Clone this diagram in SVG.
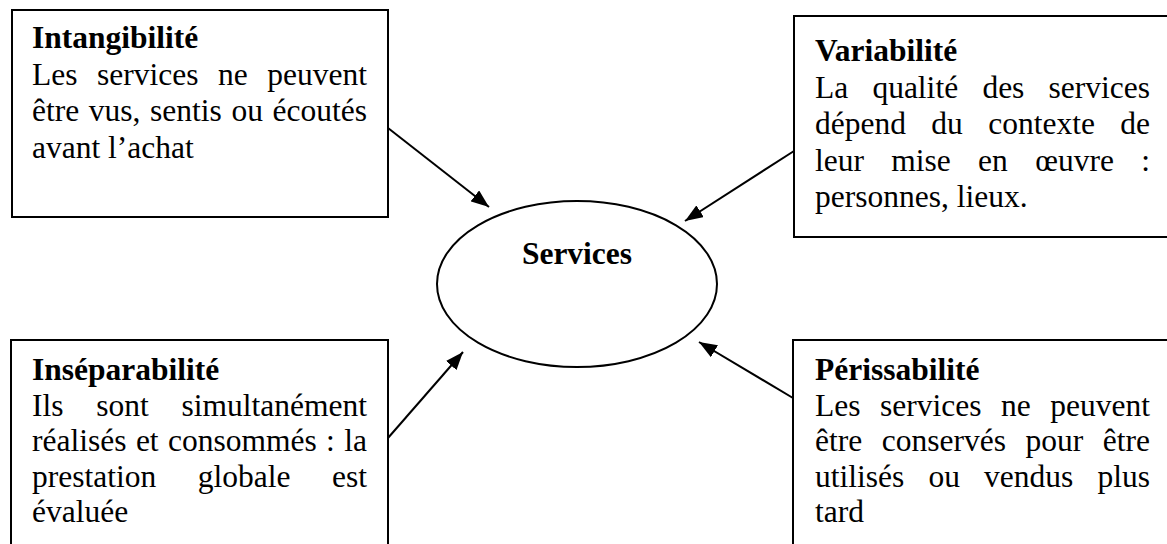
<svg xmlns="http://www.w3.org/2000/svg" width="1167" height="544" viewBox="0 0 1167 544">
  <defs>
    <style>
      .box { fill: #ffffff; stroke: #000000; stroke-width: 2; }
      .oval { fill: #ffffff; stroke: #000000; stroke-width: 2; }
      .txt { font-family: "Liberation Serif", "Times New Roman", serif; font-size: 31.5px; fill: #000000; }
      .ttl { font-weight: bold; }
      .end { text-anchor: end; }
      .link { stroke: #000000; stroke-width: 2; fill: none; marker-end: url(#head); }
    </style>
    <marker id="head" viewBox="0 0 18 14" refX="18" refY="7" markerWidth="18" markerHeight="14" markerUnits="userSpaceOnUse" orient="auto">
      <path d="M0,0 L18,7 L0,14 Z" fill="#000000"/>
    </marker>
  </defs>
  <rect width="1167" height="544" fill="#ffffff"/>

  <!-- Top-left: Intangibilité -->
  <g id="intangibilite">
    <rect class="box" x="12" y="10" width="376" height="207"/>
    <text class="txt ttl" x="32" y="48">Intangibilité</text>
    <text class="txt" y="84.5"><tspan x="32">Les</tspan><tspan x="97">services</tspan><tspan x="218">ne</tspan><tspan x="367" class="end">peuvent</tspan></text>
    <text class="txt" y="121"><tspan x="32">être</tspan><tspan x="88.8">vus,</tspan><tspan x="150.1">sentis</tspan><tspan x="231.4">ou</tspan><tspan x="367" class="end">écoutés</tspan></text>
    <text class="txt" x="32" y="157.5">avant l’achat</text>
  </g>

  <!-- Top-right: Variabilité -->
  <g id="variabilite">
    <rect class="box" x="794" y="16" width="380" height="221"/>
    <text class="txt ttl" x="815" y="61">Variabilité</text>
    <text class="txt" y="97.5"><tspan x="815">La</tspan><tspan x="872.4">qualité</tspan><tspan x="982.4">des</tspan><tspan x="1150" class="end">services</tspan></text>
    <text class="txt" y="134"><tspan x="815">dépend</tspan><tspan x="931.3">du</tspan><tspan x="988.2">contexte</tspan><tspan x="1150" class="end">de</tspan></text>
    <text class="txt" y="170.5"><tspan x="815">leur</tspan><tspan x="891.3">mise</tspan><tspan x="978.1">en</tspan><tspan x="1035.2">œuvre</tspan><tspan x="1150" class="end">:</tspan></text>
    <text class="txt" x="815" y="207">personnes, lieux.</text>
  </g>

  <!-- Centre -->
  <g id="services">
    <ellipse class="oval" cx="577" cy="284" rx="140" ry="83"/>
    <text class="txt ttl" x="577" y="264" text-anchor="middle">Services</text>
  </g>

  <!-- Bottom-left: Inséparabilité -->
  <g id="inseparabilite">
    <rect class="box" x="11" y="340" width="377" height="220"/>
    <text class="txt ttl" x="32" y="380">Inséparabilité</text>
    <text class="txt" y="415.5"><tspan x="32">Ils</tspan><tspan x="96.3">sont</tspan><tspan x="367" class="end">simultanément</tspan></text>
    <text class="txt" y="451"><tspan x="32">réalisés</tspan><tspan x="135.9">et</tspan><tspan x="168">consommés</tspan><tspan x="326.1">:</tspan><tspan x="367" class="end">la</tspan></text>
    <text class="txt" y="486.5"><tspan x="32">prestation</tspan><tspan x="197.8">globale</tspan><tspan x="367" class="end">est</tspan></text>
    <text class="txt" x="32" y="522">évaluée</text>
  </g>

  <!-- Bottom-right: Périssabilité -->
  <g id="perissabilite">
    <rect class="box" x="793" y="340" width="381" height="220"/>
    <text class="txt ttl" x="815" y="380">Périssabilité</text>
    <text class="txt" y="415.5"><tspan x="815">Les</tspan><tspan x="880">services</tspan><tspan x="1001">ne</tspan><tspan x="1150" class="end">peuvent</tspan></text>
    <text class="txt" y="451"><tspan x="815">être</tspan><tspan x="881.8">conservés</tspan><tspan x="1025.5">pour</tspan><tspan x="1150" class="end">être</tspan></text>
    <text class="txt" y="486.5"><tspan x="815">utilisés</tspan><tspan x="928.4">ou</tspan><tspan x="984.1">vendus</tspan><tspan x="1150" class="end">plus</tspan></text>
    <text class="txt" x="815" y="522">tard</text>
  </g>

  <!-- Connectors -->
  <g id="connectors">
    <line class="link" x1="388" y1="128" x2="489" y2="207"/>
    <line class="link" x1="794" y1="151" x2="685" y2="221"/>
    <line class="link" x1="388" y1="438" x2="463" y2="352"/>
    <line class="link" x1="793" y1="398" x2="699" y2="342"/>
  </g>
</svg>
